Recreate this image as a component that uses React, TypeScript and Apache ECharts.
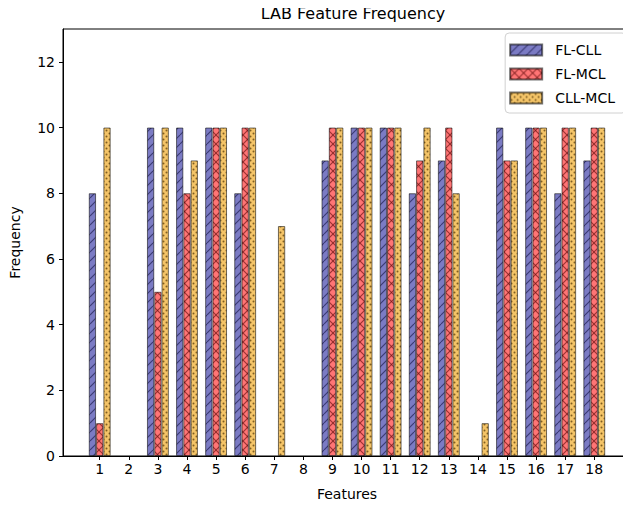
import React, { useEffect, useRef } from "react";
import * as echarts from "echarts";

const categories = [1, 2, 3, 4, 5, 6, 7, 8, 9, 10, 11, 12, 13, 14, 15, 16, 17, 18];
const flCll = [8, 0, 10, 10, 10, 8, 0, 0, 9, 10, 10, 8, 9, 0, 10, 10, 8, 9];
const flMcl = [1, 0, 5, 8, 10, 10, 0, 0, 10, 10, 10, 9, 10, 0, 9, 10, 10, 10];
const cllMcl = [10, 0, 10, 9, 10, 10, 7, 0, 10, 10, 10, 10, 8, 1, 9, 10, 10, 10];
const yTicks = [0, 2, 4, 6, 8, 10, 12];
const seriesNames = ["FL-CLL", "FL-MCL", "CLL-MCL"];

const FONT = "DejaVu Sans";

function makePattern(kind: string, bg: string, fg: string) {
  const size = kind === "dots" ? 6 : 9;
  const c = document.createElement("canvas");
  c.width = size;
  c.height = size;
  const ctx = c.getContext("2d")!;
  ctx.fillStyle = bg;
  ctx.fillRect(0, 0, size, size);
  ctx.strokeStyle = fg;
  ctx.fillStyle = fg;
  ctx.lineWidth = 1.1;
  const diag = (flip: boolean) => {
    for (const off of [-size, 0, size]) {
      ctx.beginPath();
      if (!flip) {
        ctx.moveTo(off, size);
        ctx.lineTo(off + size, 0);
      } else {
        ctx.moveTo(off, 0);
        ctx.lineTo(off + size, size);
      }
      ctx.stroke();
    }
  };
  if (kind === "slash") diag(false);
  if (kind === "cross") {
    diag(false);
    diag(true);
  }
  if (kind === "dots") {
    ctx.beginPath();
    ctx.arc(1.5, 1.5, 1, 0, Math.PI * 2);
    ctx.fill();
    ctx.beginPath();
    ctx.arc(4.5, 4.5, 1, 0, Math.PI * 2);
    ctx.fill();
  }
  return { image: c, repeat: "repeat", imageWidth: size, imageHeight: size } as any;
}

export default function App() {
  const ref = useRef<HTMLDivElement>(null);
  useEffect(() => {
    if (!ref.current) return;
    const chart = echarts.init(ref.current, null, { renderer: "svg" });
    const fills = [
      makePattern("slash", "#7b7bc4", "rgba(30,30,80,0.7)"),
      makePattern("cross", "#ff7575", "rgba(110,20,20,0.7)"),
      makePattern("dots", "#f4c468", "rgba(90,60,10,0.75)"),
    ];
    const datasets = [flCll, flMcl, cllMcl];
    chart.setOption({
      animation: false,
      backgroundColor: "#ffffff",
      textStyle: { fontFamily: FONT },
      title: {
        text: "LAB Feature Frequency",
        left: 348,
        top: 0,
        textAlign: "center",
        textStyle: { fontFamily: FONT, fontSize: 16, fontWeight: "normal", color: "#000" },
      },
      legend: {
        orient: "vertical",
        right: 5,
        top: 33,
        icon: "rect",
        itemWidth: 32,
        itemHeight: 11,
        itemGap: 10,
        padding: [10, 11, 8, 4],
        borderColor: "#d0d0d0",
        borderWidth: 1,
        borderRadius: 4,
        backgroundColor: "#ffffff",
        textStyle: { fontFamily: FONT, fontSize: 14, color: "#000", padding: [0, 0, 0, 8] },
        data: seriesNames,
      },
      grid: {
        left: 63,
        top: 29,
        width: 570,
        height: 427,
        show: true,
        borderColor: "#000",
        borderWidth: 1,
        containLabel: false,
      },
      xAxis: {
        type: "value",
        min: -0.2625,
        max: 19.2625,
        name: "Features",
        nameLocation: "middle",
        nameGap: 31,
        nameTextStyle: { fontFamily: FONT, fontSize: 14, color: "#000" },
        axisLine: { show: true, onZero: false, lineStyle: { color: "#000", width: 1 } },
        axisTick: { show: true, length: 4, lineStyle: { color: "#000" }, customValues: categories },
        axisLabel: {
          show: true,
          fontFamily: FONT,
          fontSize: 14,
          color: "#000",
          margin: 6,
          customValues: categories,
        },
        splitLine: { show: false },
      },
      yAxis: {
        type: "value",
        min: 0,
        max: 13,
        name: "Frequency",
        nameLocation: "middle",
        nameGap: 41,
        nameTextStyle: { fontFamily: FONT, fontSize: 14, color: "#000" },
        axisLine: { show: true, onZero: false, lineStyle: { color: "#000", width: 1 } },
        axisTick: { show: true, length: 4, lineStyle: { color: "#000" }, customValues: yTicks },
        axisLabel: {
          show: true,
          fontFamily: FONT,
          fontSize: 14,
          color: "#000",
          margin: 8,
          customValues: yTicks,
        },
        splitLine: { show: false },
      },
      series: seriesNames.map((name, i) => ({
        name,
        type: "bar",
        barWidth: 7.3,
        barGap: "0%",
        itemStyle: {
          color: fills[i],
          borderColor: "rgba(0,0,0,0.55)",
          borderWidth: 1,
        },
        data: categories.map((c, j) => [c, datasets[i][j] === 0 ? null : datasets[i][j]]),
      })),
    });
    return () => chart.dispose();
  }, []);
  return <div ref={ref} style={{ width: 631, height: 508, marginLeft: -8, marginTop: -8 }} />;
}
